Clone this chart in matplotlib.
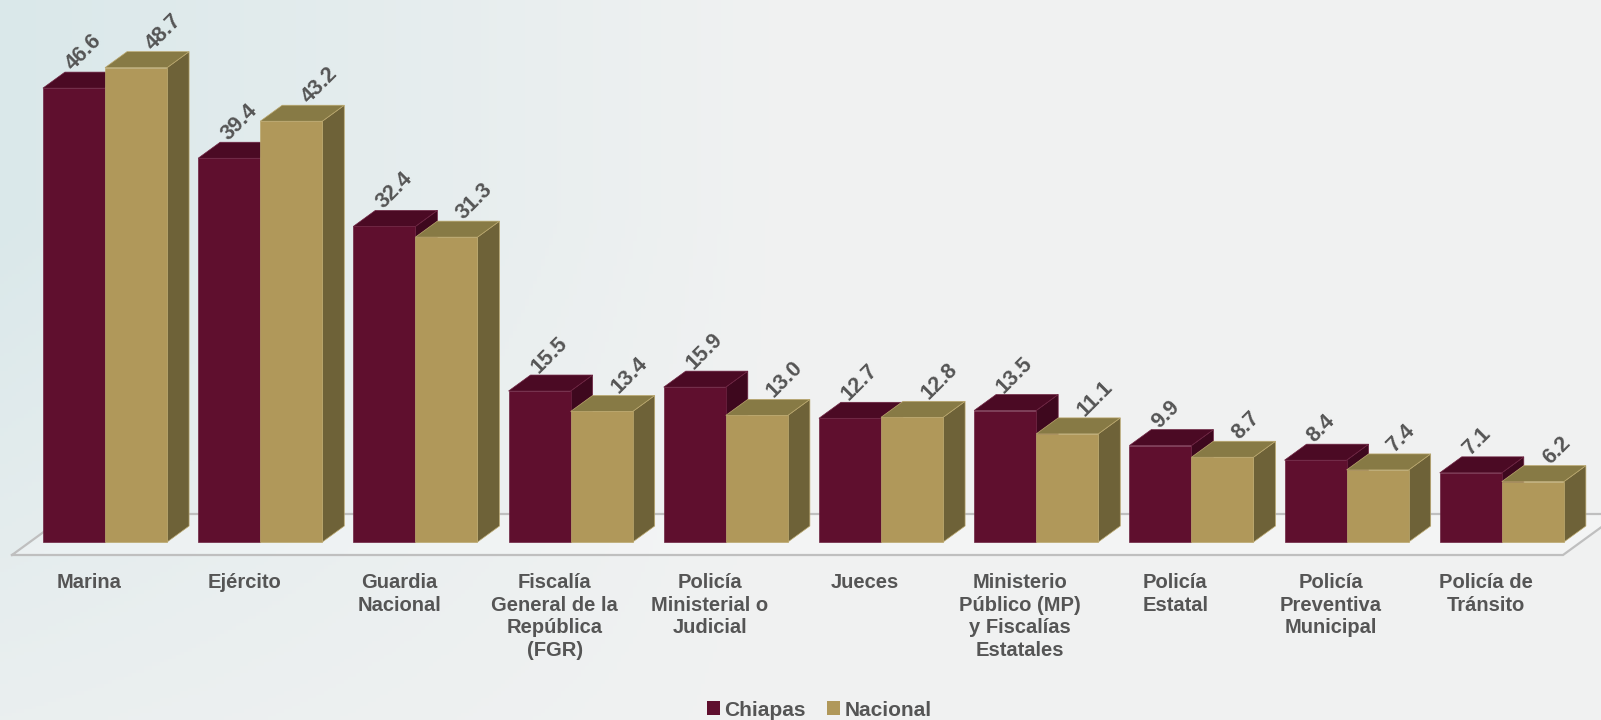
import matplotlib
matplotlib.use("Agg")
import matplotlib.pyplot as plt
import numpy as np
from matplotlib.patches import Patch

plt.rcParams['font.family'] = ['Liberation Sans', 'DejaVu Sans']

categories = ["Marina", "Ejército", "Guardia\nNacional",
              "Fiscalía\nGeneral de la\nRepública\n(FGR)",
              "Policía\nMinisterial o\nJudicial", "Jueces",
              "Ministerio\nPúblico (MP)\ny Fiscalías\nEstatales",
              "Policía\nEstatal", "Policía\nPreventiva\nMunicipal",
              "Policía de\nTránsito"]
chiapas = [46.6, 39.4, 32.4, 15.5, 15.9, 12.7, 13.5, 9.9, 8.4, 7.1]
nacional = [48.7, 43.2, 31.3, 13.4, 13.0, 12.8, 11.1, 8.7, 7.4, 6.2]
series_names = ["Chiapas", "Nacional"]

# face colours: front, top, side
col_chi = ("#5F0F2E", "#4B0A24", "#3E081E")
col_nac = ("#B0985A", "#877A45", "#6E6238")
edge_chi = "#6E2442"
edge_nac = "#BBA86E"
txt_col = "#555555"

W, H = 1601, 720
fig = plt.figure(figsize=(W / 100, H / 100), dpi=100)

# background gradient
bg = fig.add_axes([0, 0, 1, 1], zorder=0)
xx, yy = np.meshgrid(np.linspace(0, 1, 400), np.linspace(0, 1, 200))
left_tint = np.clip(1 - xx / 0.5, 0, 1) * np.clip(0.3 + yy, 0, 1)
c1 = np.array([0.945, 0.949, 0.949])
c2 = np.array([0.855, 0.910, 0.918])
img = c1[None, None, :] * (1 - left_tint[..., None]) + c2[None, None, :] * left_tint[..., None]
bg.imshow(img, aspect='auto', extent=[0, 1, 0, 1], origin='lower')
bg.axis('off')

ax = fig.add_axes([0, 0, 1, 1], zorder=1)
ax.patch.set_visible(False)
px_x = 155.2   # pixels per category unit
px_y = 9.74    # pixels per value unit
ax.set_xlim(-105 / px_x, (W - 105) / px_x)
ax.set_ylim((542 - H) / px_y, 542 / px_y)
ax.axis('off')

w = 0.4
dx = 22 / px_x
dy = 16 / px_y

# floor
f_front, f_back = -13 / px_y, 28 / px_y
fdx = (f_back - f_front) / dy * dx
x_fl = -93 / px_x
x_fr = x_fl + 1551 / px_x
ax.fill([x_fl, x_fr, x_fr + fdx, x_fl + fdx], [f_front, f_front, f_back, f_back],
        facecolor="white", alpha=0.25, edgecolor="none", zorder=1)
ax.plot([x_fl, x_fr, x_fr + fdx, x_fl + fdx, x_fl], [f_front, f_front, f_back, f_back, f_front],
        color="#BFBFBF", lw=1.6, zorder=2, solid_joinstyle='miter')


def bar3d(x0, v, cols, ec, z):
    front, top, side = cols
    ax.fill([x0 + w, x0 + w + dx, x0 + w + dx, x0 + w], [0, dy, v + dy, v],
            facecolor=side, edgecolor=ec, lw=0.5, zorder=z)
    ax.fill([x0, x0 + w, x0 + w + dx, x0 + dx], [v, v, v + dy, v + dy],
            facecolor=top, edgecolor=ec, lw=0.5, zorder=z)
    ax.fill([x0, x0 + w, x0 + w, x0], [0, 0, v, v],
            facecolor=front, edgecolor=ec, lw=0.5, zorder=z)


for i, (c, n) in enumerate(zip(chiapas, nacional)):
    bar3d(i - w, c, col_chi, edge_chi, 3 + 2 * i)
    bar3d(i, n, col_nac, edge_nac, 4 + 2 * i)
    ax.text(i - w + dx + 8 / px_x, c + dy + 1 / px_y, f"{c:.1f}", rotation=45,
            rotation_mode='anchor', ha='left', va='baseline', fontsize=15.5,
            fontweight='bold', color=txt_col, zorder=30)
    ax.text(i + dx + 26 / px_x, n + dy + 1 / px_y, f"{n:.1f}", rotation=45,
            rotation_mode='anchor', ha='left', va='baseline', fontsize=15.5,
            fontweight='bold', color=txt_col, zorder=30)
    ax.text(i - 16 / px_x, -31 / px_y, categories[i], ha='center', va='top',
            fontsize=14.5, fontweight='bold', color=txt_col, linespacing=1.24,
            zorder=30)

handles = [Patch(facecolor=col_chi[0]), Patch(facecolor=col_nac[0])]
fig.legend(handles, series_names, loc='center', bbox_to_anchor=(819 / W, 10 / H), ncol=2,
           frameon=False, handlelength=0.65, handleheight=0.65, handletextpad=0.2,
           columnspacing=1.0, prop={'weight': 'bold', 'size': 15}, labelcolor=txt_col)

fig.savefig("out.png", dpi=100)
